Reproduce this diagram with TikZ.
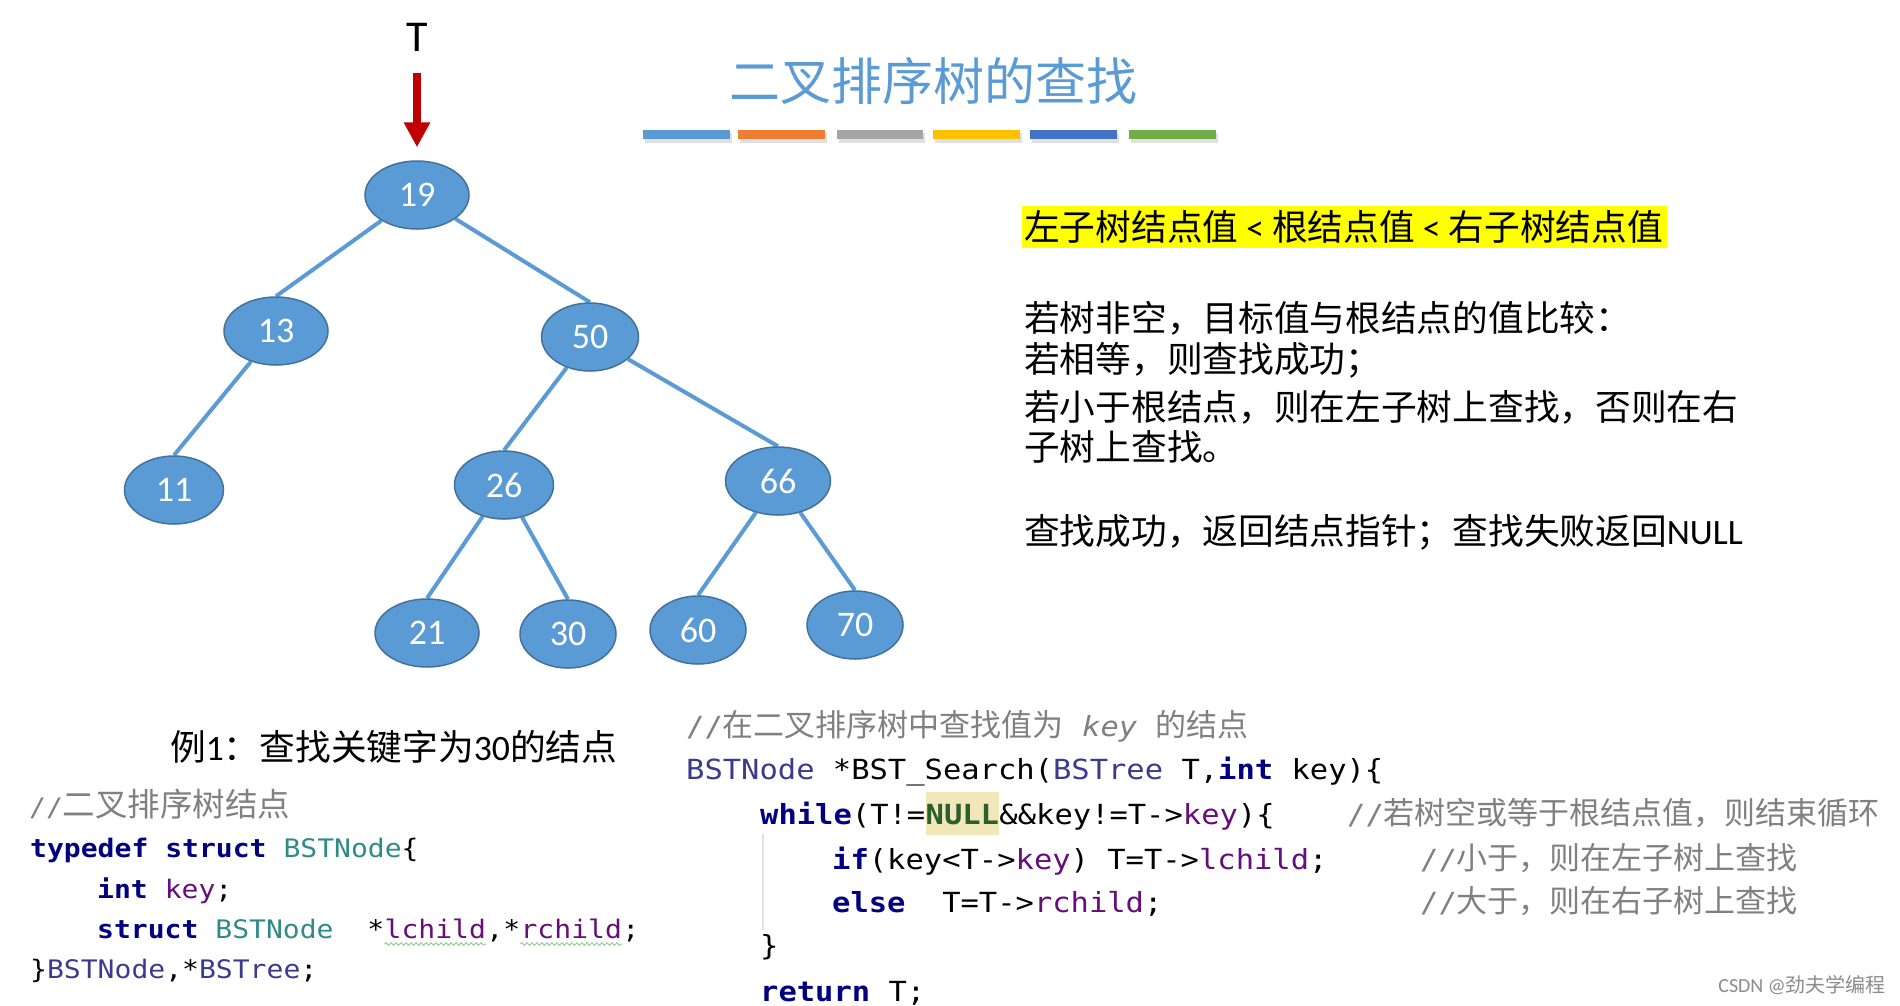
\documentclass[tikz,border=0pt]{standalone}
\usepackage{fontspec}
\setmainfont{Carlito}
\newfontfamily\cjk{Noto Sans CJK SC}
\newfontfamily\codefont[FakeStretch=1.1]{DejaVu Sans Mono}
\usetikzlibrary{shapes.geometric,arrows.meta,decorations.pathmorphing,backgrounds}

\definecolor{nodefill}{HTML}{5B9BD5}
\definecolor{nodeline}{HTML}{41719C}
\definecolor{arrowred}{HTML}{C00000}
\definecolor{kwc}{HTML}{000080}
\definecolor{tyc}{HTML}{2E8B87}
\definecolor{tyb}{HTML}{3B3B8E}
\definecolor{fldc}{HTML}{660E7A}
\definecolor{cmtc}{HTML}{808080}
\definecolor{nullc}{HTML}{2D5E2D}
\definecolor{nullbg}{HTML}{F2E7B9}
\definecolor{guidec}{HTML}{E2E2E2}
\definecolor{wavyc}{HTML}{9CCC9C}
\definecolor{barA}{HTML}{5B9BD5}
\definecolor{barB}{HTML}{ED7D31}
\definecolor{barC}{HTML}{A5A5A5}
\definecolor{barD}{HTML}{FFC000}
\definecolor{barE}{HTML}{4472C4}
\definecolor{barF}{HTML}{70AD47}
\definecolor{hlyellow}{HTML}{FFFF00}

\newcommand\ckw[1]{\textcolor{kwc}{\bfseries #1}}
\newcommand\ctyA[1]{\textcolor{tyc}{#1}}
\newcommand\ctyB[1]{\textcolor{tyb}{#1}}
\newcommand\cfld[1]{\textcolor{fldc}{#1}}
\newcommand\zhL[1]{{\cjk\fontsize{32.5}{32.5}\selectfont #1}}
\newcommand\zhR[1]{{\cjk\fontsize{31}{31}\selectfont #1}}

\tikzset{
  bst/.style={ellipse, fill=nodefill, draw=nodeline, line width=1.5pt,
    minimum height=68pt, minimum width=100pt, inner sep=0pt, text=white,
    font=\fontsize{36}{36}\selectfont},
  treeedge/.style={draw=nodefill, line width=4pt},
  tarrow/.style={draw=arrowred, line width=8.5pt,
    -{Triangle[width=25pt,length=25pt]}, arrowred},
  rtext/.style={anchor=west, inner sep=0pt, font=\cjk\fontsize{35.7}{35.7}\selectfont},
  codeL/.style={anchor=base west, inner sep=0pt, font=\codefont\fontsize{25.5}{25.5}\selectfont},
  codeR/.style={anchor=base west, inner sep=0pt, font=\codefont\fontsize{27.7}{27.7}\selectfont},
  wavy/.style={draw=wavyc, line width=1pt, decorate,
    decoration={snake, amplitude=1.3pt, segment length=5pt}},
  barshadow/.style={fill=black, opacity=0.12},
}

\begin{document}
\begin{tikzpicture}[x=1pt, y=-1pt]
\useasboundingbox (0,0) rectangle (1900,1005);
\begin{scope}[on background layer]
  \fill[white] (0,0) rectangle (1900,1005);
\end{scope}

% ---------- title and colour bars ----------
\node[font=\cjk\fontsize{51}{51}\selectfont, text=nodefill, inner sep=0pt] (title) at (933,81) {二叉排序树的查找};
\foreach \xa/\xb/\c in {643/730/barA, 738/825/barB, 837/923/barC, 933/1020/barD, 1030/1117/barE, 1129/1216/barF}{
  \fill[barshadow] (\xa+2,133) rectangle (\xb+2,143);
  \fill[\c] (\xa,130) rectangle (\xb,139);
}

% ---------- tree ----------
\node[font=\fontsize{44}{44}\selectfont, inner sep=0pt] (T) at (417,37) {T};
\node[bst, minimum width=104pt] (n19) at (417,195) {19};
\node[bst, minimum width=104pt] (n13) at (276,331) {13};
\node[bst, minimum width=97pt]  (n50) at (590,337) {50};
\node[bst, minimum width=99pt]  (n11) at (174,490) {11};
\node[bst, minimum width=99pt]  (n26) at (504,485) {26};
\node[bst, minimum width=105pt] (n66) at (778,481) {66};
\node[bst, minimum width=104pt] (n21) at (427,633) {21};
\node[bst, minimum width=96pt]  (n30) at (568,634) {30};
\node[bst, minimum width=96pt]  (n60) at (698,630) {60};
\node[bst, minimum width=96pt]  (n70) at (855,625) {70};

\begin{scope}[on background layer]
  \draw[treeedge] (n19) -- (n13.north);
  \draw[treeedge] (n19) -- (n50.north);
  \draw[treeedge] (n13) -- (n11.north);
  \draw[treeedge] (n50) -- (n26.north);
  \draw[treeedge] (n50) -- (n66.north);
  \draw[treeedge] (n26) -- (n21.north);
  \draw[treeedge] (n26) -- (n30.north);
  \draw[treeedge] (n66) -- (n60.north);
  \draw[treeedge] (n66) -- (n70.north);
\end{scope}
\draw[tarrow, shorten <=22pt, shorten >=13pt] (T) -- (n19);

% ---------- right-hand explanation ----------
\fill[hlyellow] (1022,206) rectangle (1667,248);
\node[rtext] (rule) at (1024,227) {左子树结点值 {\rmfamily <} 根结点值 {\rmfamily <} 右子树结点值};
\node[rtext] (r1) at (1024,318) {若树非空，目标值与根结点的值比较：};
\node[rtext] (r2) at (1024,360) {若相等，则查找成功；};
\node[rtext] (r3) at (1024,407) {若小于根结点，则在左子树上查找，否则在右};
\node[rtext] (r4) at (1024,447) {子树上查找。};
\node[rtext] (r5) at (1024,532) {查找成功，返回结点指针；查找失败返回{\rmfamily NULL}};

% ---------- example ----------
\node[rtext] (ex) at (170,747) {例{\rmfamily 1}：查找关键字为{\rmfamily 30}的结点};

% ---------- left code ----------
\node[codeL, text=cmtc] (l1) at (29,816) {//\zhL{二叉排序树结点}};
\node[codeL] (l2) at (30,857) {\ckw{typedef struct} \ctyA{BSTNode}\{};
\node[codeL] (l3) at (97,898) {\ckw{int} \cfld{key};};
\node[codeL] (l4a) at (97,938) {\ckw{struct} \ctyA{BSTNode}\ \ *};
\node[codeL] (lc) at (l4a.base east) {\cfld{lchild}};
\node[codeL] (l4b) at (lc.base east) {,*};
\node[codeL] (rc) at (l4b.base east) {\cfld{rchild}};
\node[codeL] (l4c) at (rc.base east) {;};
\node[codeL] (l5) at (30,978) {\}\ctyB{BSTNode},*\ctyB{BSTree};};
\draw[wavy] ([yshift=-6pt]lc.base west) -- ([yshift=-6pt]lc.base east);
\draw[wavy] ([yshift=-6pt]rc.base west) -- ([yshift=-6pt]rc.base east);

% ---------- right code ----------
\node[codeR, text=cmtc] (c0) at (686,736) {//\zhR{在二叉排序树中查找值为}\ \textit{key}\ \zhR{的结点}};
\node[codeR] (c1) at (686,779) {\ctyB{BSTNode} *BST\symbol{"5F}Search(\ctyB{BSTree} T,\ckw{int} key)\{};
\node[codeR] (w1) at (760,824) {\ckw{while}(T!=};
\node[codeR, text=nullc, font=\codefont\bfseries\fontsize{27.7}{27.7}\selectfont] (null) at (w1.base east) {NULL};
\node[codeR] (w2) at (null.base east) {\&\&key!=T->\cfld{key})\{};
\node[codeR, text=cmtc] (wc) at (1347,824) {//\zhR{若树空或等于根结点值，则结束循环}};
\node[codeR] (i1) at (832,869) {\ckw{if}(key<T->\cfld{key}) T=T->\cfld{lchild};};
\node[codeR, text=cmtc] (ic) at (1420,869) {//\zhR{小于，则在左子树上查找}};
\node[codeR] (e1) at (832,912) {\ckw{else}\ \ T=T->\cfld{rchild};};
\node[codeR, text=cmtc] (ec) at (1420,912) {//\zhR{大于，则在右子树上查找}};
\node[codeR] (cb) at (760,955) {\}};
\node[codeR] (ret) at (760,1001) {\ckw{return} T;};
\begin{scope}[on background layer]
  \fill[nullbg] ([yshift=32pt]null.base west) rectangle ([yshift=-11pt]null.base east);
\end{scope}
\draw[guidec, line width=1.5pt] (763,834) -- (763,930);

% ---------- watermark credit ----------
\node[anchor=east, inner sep=0pt, text=black!45, font=\fontsize{20}{20}\selectfont] (csdn) at (1886,985) {CSDN @{\cjk 劲夫学编程}};
\end{tikzpicture}
\end{document}
